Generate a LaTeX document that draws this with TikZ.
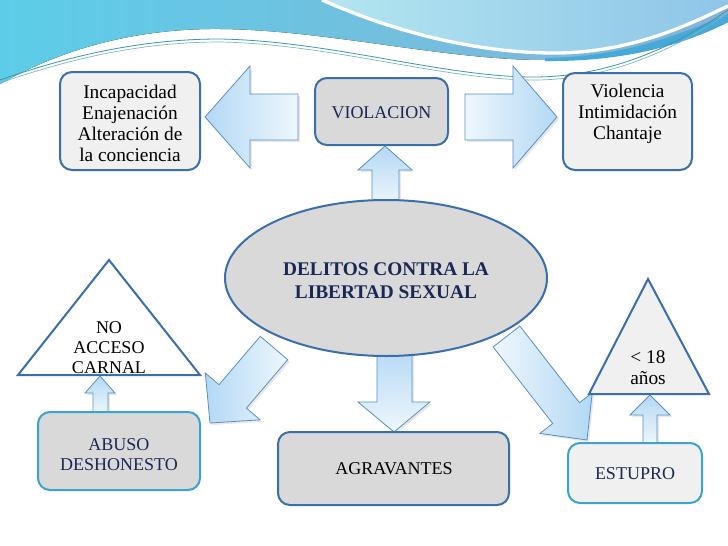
\documentclass[tikz,border=0pt]{standalone}
\usepackage{fontspec}
\setmainfont{Liberation Serif}
\usetikzlibrary{shadows,shapes.geometric}
\definecolor{edgeblue}{HTML}{3A6FAB}
\definecolor{edgecyan}{HTML}{3AA3CF}
\definecolor{boxlight}{HTML}{F0F0F0}
\definecolor{boxgray}{HTML}{D9D9D9}
\definecolor{navy}{HTML}{1B2755}
\definecolor{adark}{HTML}{B3D8F4}
\definecolor{alight}{HTML}{EEF7FD}
\definecolor{aedge}{HTML}{5A8FC6}
\definecolor{bannerA}{HTML}{5CCDE8}
\definecolor{bannerB}{HTML}{86B3D6}
\definecolor{paleA}{HTML}{B3E6F0}
\definecolor{paleB}{HTML}{8FC5E8}
\definecolor{ribbon}{HTML}{46A9D8}
\definecolor{thinline}{HTML}{3E95B0}
\tikzset{
  boxbase/.style={rectangle, rounded corners=9pt, line width=1.5pt, inner sep=0pt},
  lightbox/.style={boxbase, draw=edgeblue, fill=boxlight},
  graybox/.style={boxbase, draw=edgeblue, fill=boxgray},
  cyanlight/.style={boxbase, draw=edgecyan, fill=boxlight},
  cyangray/.style={boxbase, draw=edgecyan, fill=boxgray},
  tri/.style={draw=edgeblue, line width=1.5pt, line join=miter},
  blockarrow/.style={draw=aedge, line width=0.6pt, line join=miter,
     drop shadow={opacity=0.18, shadow xshift=1.5pt, shadow yshift=-1.5pt}},
  txt/.style={align=center, inner sep=0pt, font=\fontsize{14.5}{15.8}\selectfont},
  captxt/.style={align=center, inner sep=0pt, font=\fontsize{13.5}{15}\selectfont},
  boldtxt/.style={align=center, inner sep=0pt, text=navy,
     font=\fontsize{14.5}{17.5}\selectfont\bfseries}
}
\begin{document}
\begin{tikzpicture}[x=0.75pt,y=-0.75pt]
\useasboundingbox (0,0) rectangle (728,546);
\fill[white] (0,0) rectangle (728,546);
% ---------- banner ----------
\begin{scope}
\clip (0,0) rectangle (728,546);
\fill[left color=bannerA, right color=bannerB]
  (0,0) -- (728,0) -- (728,22) .. controls (680,46) and (620,60) .. (545,60)
  .. controls (440,60) and (320,28) .. (210,29)
  .. controls (130,30) and (60,50) .. (0,84) -- cycle;
\fill[left color=paleA, right color=paleB]
  (322,0) .. controls (390,30) and (470,52) .. (550,53)
  .. controls (630,54) and (690,24) .. (728,6) -- (728,0) -- cycle;
\draw[white, line width=2.5pt]
  (322,0) .. controls (390,30) and (470,52) .. (550,53)
  .. controls (630,54) and (690,24) .. (728,6);
\fill[ribbon]
  (545,58) .. controls (630,57) and (690,30) .. (728,14)
  -- (728,22) .. controls (690,42) and (630,62) .. (545,61) -- cycle;
\draw[thinline, line width=0.6pt]
  (0,80) .. controls (80,52) and (150,39) .. (220,39)
  .. controls (330,41) and (440,76) .. (530,77)
  .. controls (620,78) and (690,36) .. (728,10);
\draw[thinline!70, line width=0.5pt]
  (0,83) .. controls (80,55) and (150,42) .. (220,42)
  .. controls (330,44) and (440,79) .. (530,80)
  .. controls (620,81) and (690,39) .. (728,13);
\end{scope}
% ---------- block arrows ----------
\path[blockarrow, left color=adark, right color=alight]
  (298,94) -- (250,94) -- (250,66) -- (205,117) -- (250,168) -- (250,140) -- (298,140) -- cycle;
\path[blockarrow, left color=alight, right color=adark]
  (465,94) -- (513,94) -- (513,66) -- (557,117) -- (513,168) -- (513,140) -- (465,140) -- cycle;
\path[blockarrow, top color=adark, bottom color=alight]
  (372,205) -- (372,170) -- (358,170) -- (385,146) -- (412,170) -- (399,170) -- (399,205) -- cycle;
\path[blockarrow, top color=adark, bottom color=alight]
  (377,345) -- (377,402) -- (358,402) -- (394,432) -- (430,402) -- (412,402) -- (412,345) -- cycle;
\path[blockarrow, top color=adark, bottom color=alight]
  (93,413) -- (93,393) -- (85,393) -- (100,376) -- (115,393) -- (108,393) -- (108,413) -- cycle;
\path[blockarrow, top color=adark, bottom color=alight]
  (643,443) -- (643,415) -- (630,415) -- (650,395) -- (670,415) -- (657,415) -- (657,443) -- cycle;
\path[blockarrow, left color=adark, right color=alight]
  (260.3,336.3) -- (219.0,384.7) -- (205.3,373.0) -- (210,423) -- (260.1,419.8)
  -- (246.4,408.1) -- (287.7,359.7) -- cycle;
\path[blockarrow, left color=alight, right color=adark]
  (519.9,326.1) -- (579.5,402.7) -- (592.2,392.8) -- (587,440) -- (540.0,433.4)
  -- (552.7,423.5) -- (493.1,346.9) -- cycle;
% ---------- shapes ----------
\node[lightbox, minimum width=105pt, minimum height=73.5pt] (incbox) at (130,121) {};
\node[graybox, minimum width=99.75pt, minimum height=50.25pt] (violbox) at (381.5,111.5) {};
\node[lightbox, minimum width=96.75pt, minimum height=72.75pt] (vicbox) at (627.5,121.5) {};
\node[cyangray, minimum width=121.5pt, minimum height=58.5pt] (abbox) at (119,451) {};
\node[graybox, minimum width=173.25pt, minimum height=54.75pt] (agbox) at (393.5,468.5) {};
\node[cyanlight, minimum width=100.5pt, minimum height=45pt] (esbox) at (635,473) {};
\node[ellipse, draw=edgeblue, line width=1.5pt, fill=boxgray, inner sep=0pt,
      minimum width=241.5pt, minimum height=117pt] (center) at (386,278) {};
\draw[tri, fill=white] (109,260) -- (200,375) -- (18,375) -- cycle;
\draw[tri, fill=boxlight] (648,279) -- (709,394) -- (589,394) -- cycle;
% ---------- texts ----------
\node[txt] (inc) at (130,123) {Incapacidad\\Enajenación\\Alteración de\\la conciencia};
\node[captxt, text=navy] (viol) at (381.5,113) {VIOLACION};
\node[txt] (vic) at (627.5,114) {Violencia\\Intimidación\\Chantaje};
\node[boldtxt] (deli) at (386,281) {DELITOS CONTRA LA\\LIBERTAD SEXUAL};
\node[captxt] (noac) at (109,348) {NO\\ACCESO\\CARNAL};
\node[captxt, text=navy] (abu) at (119,455) {ABUSO\\DESHONESTO};
\node[captxt] (agr) at (394,469) {AGRAVANTES};
\node[captxt, text=navy] (est) at (635,474) {ESTUPRO};
\node[txt] (men) at (648,368) {< 18\\años};
\end{tikzpicture}
\end{document}
